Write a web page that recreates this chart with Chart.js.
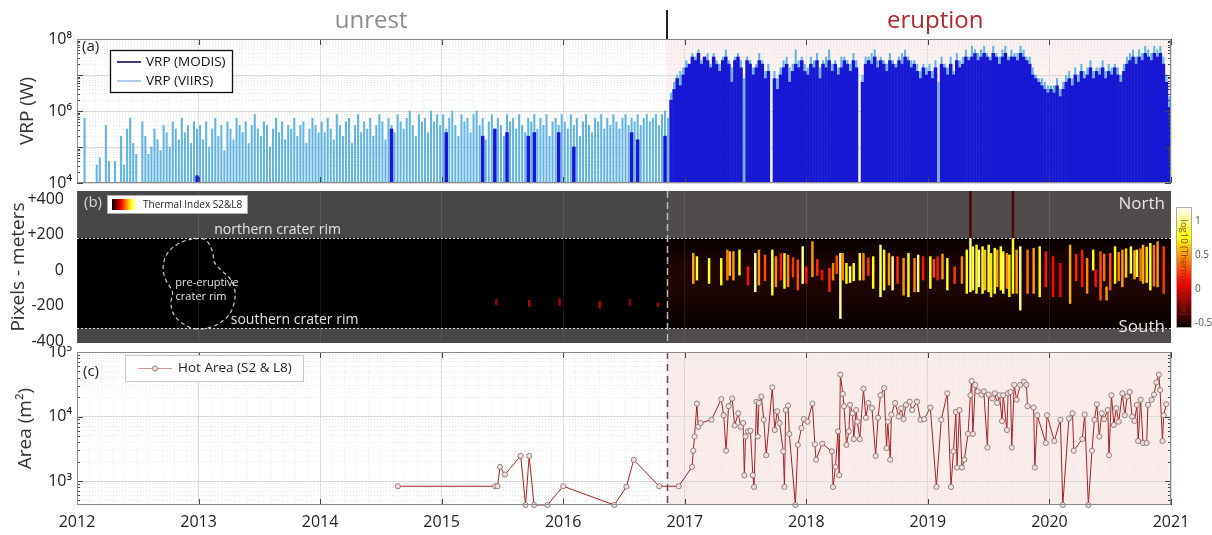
<!DOCTYPE html>
<html lang="en">
<head>
<meta charset="utf-8">
<title>Radiant power, thermal index and hot area, 2012–2021</title>
<script src="https://cdn.jsdelivr.net/npm/chart.js@4.4.1/dist/chart.umd.min.js"></script>
<style>
  html, body { margin: 0; padding: 0; background: #fff; }
  #fig { position: relative; width: 1212px; height: 535px; overflow: hidden; }
  #fig canvas { position: absolute; left: 0; }
</style>
</head>
<body>
<div id="fig">
  <canvas id="panelA" width="1212" height="190" style="top:0;width:1212px;height:190px"></canvas>
  <canvas id="panelB" width="1212" height="164" style="top:186px;width:1212px;height:164px"></canvas>
  <canvas id="panelC" width="1212" height="189" style="top:346px;width:1212px;height:189px"></canvas>
</div>
<script>
const _ = null;

// ---------- shared time axis ----------
const yearTicks = [2012, 2013, 2014, 2015, 2016, 2017, 2018, 2019, 2020, 2021];
const eruptionOnset = 2016.85;
const phaseLabels = ['unrest', 'eruption'];
const phaseLabelYear = [2014.42, 2019.06];
const phaseColors = ['#8c8c8c', '#b3282d'];

// ---------- (a) VRP, log10(W), 40 bins per year from 2012.0 ----------
const vrpBinStart = 2012;
const vrpBinsPerYear = 40;
const modisLogVRP = [
  _, _, _, _, _, _, _, _, _, _, _, _, _, _, _, _, _, _, _, _, _, _, _, _, _, _, _, _, _, _, _, _, _, _, _, _, _, _, _, 4.2,
  _, _, _, _, _, _, _, _, _, _, _, _, _, _, _, _, _, _, _, _, _, _, _, _, _, _, _, _, _, _, _, _, _, _, _, _, _, _, _, _,
  _, _, _, _, _, _, _, _, _, _, _, _, _, _, _, _, _, _, _, _, _, _, _, 5.5, _, _, _, _, _, _, _, _, _, _, _, _, _, _, _, _,
  _, 5.4, _, _, _, _, _, _, _, _, _, _, _, 5.3, _, _, _, 5.5, _, _, _, 5.4, _, _, _, _, _, _, 5.3, _, 5.4, _, _, _, _, _, _, _, 5.4, _,
  _, _, _, 5.0, _, _, _, _, _, _, _, _, _, _, _, _, _, _, _, _, _, _, 5.4, _, 5.2, _, _, _, _, _, _, _, _, 5.3, _, 6.3, 6.6, 6.9, 6.7, 7.0,
  7.2, 7.3, 7.5, 7.4, 7.6, 7.3, 7.5, 7.4, 7.2, 7.5, 7.3, 7.1, 7.4, 7.5, 7.3, 6.8, 7.4, 7.5, 7.2, _, 7.4, 7.3, 7.0, 7.2, 7.4, 7.3, 6.9, 7.1, _, 6.9, 6.6, 7.0, 7.2, 7.3, 6.8, 7.1, 7.3, 7.2, 7.4, 7.1,
  7.0, 7.3, 7.2, 7.4, 6.9, 7.3, 7.2, 7.4, 7.1, 7.3, 7.0, 7.2, 7.4, 7.3, 7.1, 7.4, 7.2, _, 6.8, 7.3, 7.4, 7.3, 7.5, 7.2, 7.4, 7.3, 7.1, 7.4, 7.3, 7.2, 7.4, 7.3, 7.5, 7.4, 7.2, 7.3, 7.1, 6.9, 7.2, 7.0,
  7.1, 6.9, 7.2, _, 7.3, 7.2, 7.0, 7.3, 7.0, 7.4, 7.2, 7.3, 7.5, 7.4, 7.5, 7.6, 7.4, 7.5, 7.6, 7.5, 7.4, 7.6, 7.5, 7.3, 7.5, 7.6, 7.4, 7.5, 7.5, 7.4, 7.6, 7.5, 7.4, 7.3, 7.0, 6.9, 6.8, 6.7, 6.6, 6.5,
  6.6, 6.5, 6.7, 6.4, 6.6, 6.8, 6.9, 6.7, 7.0, 6.8, 7.1, 6.9, 7.0, 7.2, 6.9, 7.1, 7.0, 7.2, 6.9, 7.1, 7.0, 7.2, 7.0, 6.8, 7.1, 7.3, 7.4, 7.5, 7.3, 7.5, 7.4, 7.6, 7.5, 7.4, 7.6, 7.5, 7.6, 7.3, 6.8, 6.1
];
const viirsLogVRP = [
  _, _, 5.8, _, _, _, 4.5, 4.7, _, 5.6, 4.6, _, 4.6, _, 5.3, 4.5, 5.5, 5.8, 5.1, 4.8, _, 5.7, 5.3, 4.8, 5.0, 5.5, 5.2, 4.9, 5.6, 5.4, 5.0, 5.7, 5.5, 5.2, 5.8, 5.4, 5.6, 5.1, 5.7, 5.5,
  5.6, 5.2, 5.7, 5.0, 5.5, 5.8, 5.3, 5.6, 4.9, 5.7, 5.5, 5.2, 5.8, 5.6, 5.4, 5.7, 5.1, 5.6, 5.9, 5.5, 5.3, 5.7, 5.6, 5.0, 5.5, 5.8, 5.4, 5.7, 5.2, 5.6, 5.5, 5.8, 5.3, 5.6, 5.7, 5.1, 5.5, 5.8, 5.6, 5.4,
  5.7, 5.4, 5.8, 5.5, 5.2, 5.9, 5.6, 5.3, 5.7, 5.8, 5.1, 5.6, 5.9, 5.4, 5.7, 5.5, 5.8, 5.3, 5.6, 5.9, 5.7, 5.2, 5.8, 5.6, 5.4, 5.9, 5.7, 5.5, 5.8, 6.0, 5.6, 5.3, 5.9, 5.7, 5.8, 5.4, 6.0, 5.7, 5.9, 5.6,
  5.9, 5.5, 5.8, 6.0, 5.6, 5.3, 5.9, 5.7, 5.8, 5.4, 5.9, 6.0, 5.6, 5.8, 5.2, 5.7, 5.9, 5.5, 5.8, 5.6, 5.3, 5.9, 5.7, 5.8, 5.5, 5.9, 5.6, 5.4, 5.8, 5.7, 5.9, 5.5, 5.8, 5.6, 5.9, 5.3, 5.7, 5.8, 5.6, 5.9,
  5.7, 5.5, 5.9, 5.6, 5.8, 5.3, 5.7, 5.9, 5.6, 5.4, 5.8, 5.7, 5.9, 5.5, 5.8, 5.6, 5.9, 5.7, 5.5, 5.8, 5.9, 5.6, 5.8, 5.7, 5.9, 5.6, 5.8, 5.9, 5.7, 5.8, 5.9, 5.6, 5.9, 6.0, 5.8, 6.5, 6.8, 7.0, 7.1, 7.2,
  7.4, 7.3, 7.6, 7.5, 7.7, 7.4, 7.5, 7.6, 7.3, 7.6, 7.4, 7.3, 7.5, 7.7, 7.4, 7.2, 7.5, 7.6, 7.4, 6.9, 7.5, 7.4, 7.2, 7.3, 7.6, 7.4, 7.1, 7.3, _, 7.1, 6.9, 7.2, 7.4, 7.5, 7.2, 7.3, 7.7, 7.4, 7.5, 7.3,
  7.2, 7.5, 7.4, 7.6, 7.2, 7.4, 7.5, 7.7, 7.3, 7.4, 7.2, 7.5, 7.5, 7.4, 7.3, 7.6, 7.4, _, 7.0, 7.5, 7.5, 7.6, 7.7, 7.4, 7.5, 7.4, 7.3, 7.6, 7.4, 7.3, 7.5, 7.6, 7.7, 7.5, 7.4, 7.4, 7.3, 7.1, 7.3, 7.2,
  7.3, 7.1, 7.4, 6.8, 7.5, 7.3, 7.2, 7.5, 7.1, 7.6, 7.4, 7.5, 7.7, 7.5, 7.8, 7.7, 7.6, 7.7, 7.8, 7.6, 7.5, 7.8, 7.6, 7.5, 7.7, 7.8, 7.5, 7.7, 7.6, 7.6, 7.8, 7.7, 7.5, 7.5, 7.2, 7.0, 6.9, 6.9, 6.8, 6.7,
  6.7, 6.7, 6.9, 6.6, 6.8, 7.0, 7.1, 6.9, 7.2, 7.0, 7.3, 7.1, 7.2, 7.4, 7.1, 7.2, 7.2, 7.4, 7.1, 7.3, 7.2, 7.3, 7.2, 7.0, 7.3, 7.5, 7.6, 7.7, 7.5, 7.7, 7.6, 7.8, 7.7, 7.6, 7.8, 7.7, 7.8, 7.5, 7.0, 6.4
];
const vrpDecades = [1e4, 1e5, 1e6, 1e7, 1e8];

// ---------- (b) thermal index strip (metres along the N–S profile) ----------
const pixelTicks = [-400, -200, 0, 200, 400];
const rimNorth = 181;
const rimSouth = -328;
const thermDate = [
  2015.45, 2015.72, 2015.97, 2016.30, 2016.55, 2016.78,
  2017.07, 2017.10, 2017.20, 2017.30, 2017.35, 2017.37, 2017.40, 2017.45, 2017.52, 2017.58,
  2017.61, 2017.66, 2017.72, 2017.75, 2017.79, 2017.82, 2017.85, 2017.89, 2017.93, 2017.97,
  2018.00, 2018.05, 2018.09, 2018.13, 2018.19, 2018.22, 2018.25, 2018.28, 2018.30, 2018.33,
  2018.36, 2018.39, 2018.44, 2018.47, 2018.51, 2018.55, 2018.61, 2018.64, 2018.68, 2018.71,
  2018.75, 2018.80, 2018.84, 2018.89, 2018.92, 2018.96, 2019.02, 2019.05, 2019.08, 2019.12,
  2019.16, 2019.22, 2019.28, 2019.32, 2019.35, 2019.37, 2019.40, 2019.42, 2019.45, 2019.47,
  2019.50, 2019.52, 2019.55, 2019.57, 2019.60, 2019.62, 2019.65, 2019.67, 2019.70, 2019.73,
  2019.76, 2019.82, 2019.87, 2019.92, 2019.97, 2020.03, 2020.09, 2020.17, 2020.22, 2020.27,
  2020.31, 2020.36, 2020.38, 2020.42, 2020.45, 2020.47, 2020.50, 2020.54, 2020.57, 2020.60,
  2020.63, 2020.67, 2020.70, 2020.72, 2020.75, 2020.77, 2020.80, 2020.83, 2020.86, 2020.89,
  2020.94, 2019.35, 2019.70
];
const thermTop = [
  -165, -170, -160, -175, -165, -185,
  94, 76, 66, 66, 113, 104, 104, 113, 19, 94,
  113, 85, 113, 76, 94, 94, 85, 70, 57, 132,
  19, 160, 60, 0, 10, 38, 80, 94, 94, 38,
  20, 38, 94, 94, 70, 76, 141, 113, 94, 76,
  76, 66, 94, 66, 85, 76, 76, 60, 76, 90,
  66, 19, 76, 113, 181, 132, 141, 113, 132, 113,
  141, 94, 123, 113, 132, 104, 94, 85, 181, 113,
  132, 113, 123, 132, 104, 76, 38, 141, 90, 113,
  66, 113, 0, 104, 90, -94, 94, 132, 100, 113,
  120, 132, 110, 113, 120, 141, 130, 151, 140, 160,
  132, 445, 445
];
const thermBottom = [
  -195, -205, -200, -215, -200, -205,
  -75, -56, -75, -84, -56, -30, -56, -28, -84, -122,
  -84, -60, -141, -94, -56, -103, -94, -40, -112, -75,
  -75, -37, -30, -56, -122, -56, -20, -272, -56, -75,
  -70, -60, -56, -56, -30, -103, -150, -112, -84, -112,
  -75, -141, -150, -122, -122, -56, -103, -40, -56, -50,
  -112, -75, -75, -131, -122, -112, -131, -94, -131, -112,
  -122, -150, -131, -94, -112, -131, -103, -150, -131, -131,
  -225, -131, -131, -150, -94, -150, -150, -188, -60, -94,
  -131, 0, -94, -169, -60, -169, -112, -75, -60, -94,
  -40, -18, -50, -37, -60, -75, -70, -112, -90, -94,
  -131, 181, 181
];
const thermIdx = [
  -0.15, -0.1, -0.15, -0.1, -0.2, -0.1,
  0.55, 0.9, 0.85, 0.75, 0.4, 0.6, 0.5, 0.8, 0.15, 1.05,
  0.5, 0.3, 0.85, 0.45, 0.15, 0.8, 0.45, 0.25, 0.3, 1.0,
  0.15, 0.5, 0.2, 0.1, 0.2, 0.45, 0.3, 1.0, 0.45, 0.75,
  0.9, 0.8, 0.85, 0.45, 0.25, 0.8, 0.95, 0.75, 0.5, 1.05,
  0.2, 0.5, 0.8, 0.45, 1.0, 0.15, 0.8, 0.3, 0.15, 0.5,
  0.8, 0.25, 0.45, 0.8, 0.95, 0.85, 0.75, 1.05, 0.85, 0.6,
  0.9, 0.7, 0.85, 0.5, 0.8, 0.9, 0.45, 0.7, 0.8, 0.5,
  1.0, 0.4, 0.5, 0.75, 0.15, 0.1, 0.05, 0.55, 0.2, 0.15,
  0.45, 0.8, 0.15, 0.3, 0.4, 0.5, 0.3, 0.8, 0.45, 0.5,
  0.65, 0.9, 0.55, 0.85, 0.4, 0.55, 0.7, 0.85, 0.4, 0.5,
  0.25, -0.35, -0.35
];
const craterYear = [2012.964, 2013.060, 2013.115, 2013.129, 2013.184, 2013.266, 2013.301, 2013.279, 2013.225, 2013.115,
                    2012.978, 2012.867, 2012.799, 2012.772, 2012.785, 2012.731, 2012.708, 2012.744, 2012.840, 2012.964];
const craterPix = [179, 169, 103, 47, 1, -55, -130, -215, -271, -318,
                   -331, -299, -252, -187, -121, -56, 16, 95, 151, 179];
const thermCbarRange = [-0.57, 1.21];
const thermCbarTicks = [-0.5, 0, 0.5, 1];

// ---------- (c) hot area, m² ----------
const hotAreaDate = [
  2014.64, 2015.44, 2015.46, 2015.48, 2015.52, 2015.65, 2015.69, 2015.72, 2015.76, 2015.87,
  2016.00, 2016.42, 2016.52, 2016.58, 2016.79, 2016.95,
  2017.06, 2017.07, 2017.08, 2017.10, 2017.11, 2017.13, 2017.22, 2017.30, 2017.32, 2017.34,
  2017.36, 2017.39, 2017.41, 2017.44, 2017.46, 2017.48, 2017.49, 2017.50, 2017.52, 2017.54,
  2017.56, 2017.57, 2017.59, 2017.60, 2017.61, 2017.63, 2017.65, 2017.67, 2017.72, 2017.74,
  2017.76, 2017.78, 2017.81, 2017.82, 2017.83, 2017.85, 2017.86, 2017.91, 2017.93, 2017.96,
  2017.98, 2018.01, 2018.05, 2018.07, 2018.08, 2018.13, 2018.21, 2018.22, 2018.24, 2018.26,
  2018.27, 2018.28, 2018.30, 2018.31, 2018.33, 2018.35, 2018.36, 2018.38, 2018.39, 2018.41,
  2018.42, 2018.44, 2018.47, 2018.49, 2018.51, 2018.54, 2018.57, 2018.59, 2018.61, 2018.64,
  2018.66, 2018.67, 2018.69, 2018.70, 2018.73, 2018.76, 2018.78, 2018.80, 2018.82, 2018.85,
  2018.87, 2018.91, 2018.94, 2018.97, 2019.02, 2019.07, 2019.11, 2019.16, 2019.19, 2019.21,
  2019.23, 2019.24, 2019.26, 2019.28, 2019.30, 2019.33, 2019.35, 2019.36, 2019.37, 2019.39,
  2019.41, 2019.44, 2019.46, 2019.49, 2019.50, 2019.53, 2019.55, 2019.57, 2019.59, 2019.61,
  2019.62, 2019.65, 2019.66, 2019.68, 2019.69, 2019.71, 2019.73, 2019.76, 2019.79, 2019.81,
  2019.82, 2019.87, 2019.88, 2019.90, 2019.97, 2019.98, 2020.04, 2020.09, 2020.11, 2020.16,
  2020.19, 2020.20, 2020.27, 2020.29, 2020.32, 2020.35, 2020.37, 2020.39, 2020.41, 2020.43,
  2020.45, 2020.48, 2020.49, 2020.51, 2020.53, 2020.55, 2020.57, 2020.60, 2020.62, 2020.64,
  2020.66, 2020.68, 2020.70, 2020.72, 2020.73, 2020.75, 2020.77, 2020.80, 2020.81, 2020.84,
  2020.86, 2020.88, 2020.90, 2020.91, 2020.93, 2020.94, 2020.96
];
const hotArea = [
  830, 830, 830, 1660, 1260, 2450, 425, 2450, 425, 425,
  830, 425, 820, 2130, 830, 830,
  1660, 2950, 4900, 15850, 6920, 7940, 8910, 18600, 10470, 2950,
  14450, 19050, 7240, 11220, 6920, 7940, 1230, 4900, 5890, 6030,
  1230, 810, 16980, 4900, 16220, 20420, 8910, 2510, 28180, 6170,
  12020, 7940, 2880, 810, 12590, 14790, 5370, 425, 3630, 6610,
  9120, 8320, 15850, 3720, 2140, 3800, 2880, 810, 1660, 5890,
  1230, 44670, 22390, 14450, 3630, 5890, 15140, 11220, 4470, 12590,
  8320, 4470, 26920, 9550, 16220, 13490, 2450, 9550, 21380, 27540,
  3240, 8320, 2140, 10720, 16220, 10000, 13490, 9120, 15140, 16980,
  12590, 16980, 8910, 9120, 13800, 810, 8910, 22910, 810, 2880,
  11750, 1620, 12590, 1620, 2140, 5370, 21380, 35480, 5370, 30900,
  24550, 21880, 24550, 3310, 21880, 19050, 22910, 16220, 21380, 8510,
  21380, 6170, 22910, 23990, 3310, 30900, 18200, 30900, 34670, 30900,
  14450, 13800, 1620, 10470, 3890, 10470, 4170, 8910, 425, 9330,
  11220, 2950, 4470, 10720, 425, 2950, 8910, 15490, 4900, 11220,
  9120, 12590, 2510, 21380, 7410, 13490, 8320, 22910, 10470, 20420,
  23990, 10000, 8510, 15140, 4170, 18200, 3890, 3890, 15140, 18200,
  21880, 33880, 44670, 25700, 4170, 10470, 15490
];
const areaDecades = [1e3, 1e4, 1e5];
const areaRange = [425, 1e5];

// ---------- helpers ----------
const FONT = "'Open Sans', 'Noto Sans', 'DejaVu Sans', sans-serif";
Chart.defaults.font.family = FONT;
Chart.defaults.color = '#222';
Chart.defaults.animation = false;

const SUP = {'0':'⁰','1':'¹','2':'²','3':'³','4':'⁴','5':'⁵','6':'⁶','7':'⁷','8':'⁸','9':'⁹','-':'⁻'};
const pow10Label = v => '10' + String(Math.round(Math.log10(v))).split('').map(c => SUP[c]).join('');

const vrpBars = logs => logs
  .map((v, i) => v === null ? null : {x: vrpBinStart + (i + 0.5) / vrpBinsPerYear, y: Math.pow(10, v)})
  .filter(p => p !== null);

function hotColor(v) {
  const t = Math.min(1, Math.max(0, (v - thermCbarRange[0]) / (thermCbarRange[1] - thermCbarRange[0])));
  const r = Math.min(1, t / 0.375);
  const g = Math.min(1, Math.max(0, (t - 0.375) / 0.375));
  const b = Math.min(1, Math.max(0, (t - 0.75) / 0.25));
  return `rgb(${Math.round(r * 255)},${Math.round(g * 255)},${Math.round(b * 255)})`;
}

// scale paddings are zeroed so every panel's plot box sits exactly where the layout puts it
const noPad = s => { s.paddingTop = 0; s.paddingBottom = 0; s.paddingLeft = 0; s.paddingRight = 0; };

function timeAxis(showLabels, gridColor) {
  return {
    type: 'linear', position: 'bottom', min: yearTicks[0], max: yearTicks[yearTicks.length - 1], offset: false,
    afterBuildTicks: s => { s.ticks = yearTicks.map(v => ({value: v})); },
    ticks: { display: showLabels, autoSkip: false, maxRotation: 0, padding: 8, font: {size: 16}, color: '#222', callback: v => String(v) },
    grid: { color: gridColor, drawTicks: false, offset: false },
    border: { display: false },
    afterFit: s => { s.height = showLabels ? 30 : 0; noPad(s); }
  };
}
function minorTimeAxis(gridColor) {
  return {
    type: 'linear', position: 'bottom', min: yearTicks[0], max: yearTicks[yearTicks.length - 1], offset: false,
    afterBuildTicks: s => {
      const t = [];
      for (let k = 1; k < (s.max - s.min) * 10; k++) if (k % 10) t.push({value: s.min + k / 10});
      s.ticks = t;
    },
    ticks: { display: false },
    grid: { color: gridColor, drawTicks: false },
    border: { display: false, dash: [1, 2] },
    afterFit: s => { s.height = 0; noPad(s); }
  };
}
function logAxis(min, max, decades, label, title, width) {
  return {
    type: 'logarithmic', position: 'left', min, max,
    afterBuildTicks: s => { s.ticks = decades.map(v => ({value: v})); },
    ticks: { autoSkip: false, padding: 5, font: {size: 16}, color: '#222', callback: label },
    grid: { color: '#d9d9d9', drawTicks: false },
    border: { display: false },
    title: { display: true, text: title, font: {size: 19}, color: '#333', padding: {top: 2, bottom: 0} },
    afterFit: s => { s.width = width; noPad(s); }
  };
}
function minorLogAxis(min, max) {
  return {
    type: 'logarithmic', position: 'left', min, max,
    afterBuildTicks: s => {
      const t = [];
      for (let e = Math.floor(Math.log10(s.min)); e <= Math.ceil(Math.log10(s.max)); e++)
        for (let k = 2; k <= 9; k++) { const v = k * Math.pow(10, e); if (v > s.min && v < s.max) t.push({value: v}); }
      s.ticks = t;
    },
    ticks: { display: false },
    grid: { color: '#e6e6e6', drawTicks: false },
    border: { display: false, dash: [1, 2] },
    afterFit: s => { s.width = 0; noPad(s); }
  };
}

// inward tick marks and the axes box
const axesFrame = {
  id: 'axesFrame',
  afterDatasetsDraw(chart, args, o) {
    if (!o || !o.enabled) return;
    const {ctx, chartArea: a, scales} = chart;
    ctx.save();
    ctx.strokeStyle = o.tickColor; ctx.lineWidth = 1;
    ctx.beginPath();
    scales.x.ticks.forEach(t => {
      const px = Math.round(scales.x.getPixelForValue(t.value)) + 0.5;
      ctx.moveTo(px, a.top); ctx.lineTo(px, a.top + 6);
      ctx.moveTo(px, a.bottom); ctx.lineTo(px, a.bottom - 6);
    });
    const yt = (scale, len) => scale.ticks.forEach(t => {
      const py = Math.round(scale.getPixelForValue(t.value)) + 0.5;
      ctx.moveTo(a.left, py); ctx.lineTo(a.left + len, py);
      ctx.moveTo(a.right, py); ctx.lineTo(a.right - len, py);
    });
    yt(scales.yMinor, 3); yt(scales.y, 6);
    ctx.stroke();
    ctx.strokeStyle = o.frameColor;
    ctx.strokeRect(a.left + 0.5, a.top + 0.5, a.width - 1, a.height - 1);
    ctx.restore();
  }
};

// light shading over the eruptive period
const eruptionShade = {
  id: 'eruptionShade',
  beforeDraw(chart, args, o) {
    if (!o || !o.color) return;
    const {ctx, chartArea: a, scales} = chart;
    const x0 = scales.x.getPixelForValue(eruptionOnset);
    ctx.save(); ctx.fillStyle = o.color;
    ctx.fillRect(x0, a.top, a.right - x0, a.height);
    ctx.restore();
  }
};

const baseOpts = (padding, scales, pluginOpts) => ({
  responsive: false, maintainAspectRatio: false, devicePixelRatio: 1, animation: false, events: [],
  layout: { padding },
  scales,
  plugins: Object.assign({ legend: {display: false}, tooltip: {enabled: false} }, pluginOpts)
});

// ---------- panel (a) ----------
const panelADecor = {
  id: 'panelADecor',
  afterDraw(chart) {
    const {ctx, chartArea: a, scales} = chart;
    const xs = scales.x;
    ctx.save();
    // phase titles and divider
    ctx.textAlign = 'center'; ctx.textBaseline = 'middle';
    ctx.font = `24px ${FONT}`;
    phaseLabels.forEach((t, i) => { ctx.fillStyle = phaseColors[i]; ctx.fillText(t, xs.getPixelForValue(phaseLabelYear[i]), 21); });
    const xd = Math.round(xs.getPixelForValue(eruptionOnset));
    ctx.strokeStyle = '#222'; ctx.lineWidth = 2;
    ctx.beginPath(); ctx.moveTo(xd, 10); ctx.lineTo(xd, a.top); ctx.stroke();
    // panel letter
    ctx.textAlign = 'left'; ctx.fillStyle = '#222'; ctx.font = `15px ${FONT}`;
    ctx.fillText('(a)', a.left + 5, a.top + 8);
    // legend
    const bx = a.left + 33, by = a.top + 11, bw = 122, bh = 42;
    ctx.fillStyle = '#fff'; ctx.fillRect(bx, by, bw, bh);
    ctx.strokeStyle = '#111'; ctx.lineWidth = 1.3; ctx.strokeRect(bx + 0.5, by + 0.5, bw, bh);
    ctx.font = `13.5px ${FONT}`;
    chart.data.datasets.forEach((ds, i) => {
      const yy = by + 12 + i * 19;
      ctx.strokeStyle = ds.borderColor; ctx.lineWidth = 1.8;
      ctx.beginPath(); ctx.moveTo(bx + 7, yy); ctx.lineTo(bx + 31, yy); ctx.stroke();
      ctx.fillStyle = '#111'; ctx.fillText(ds.label, bx + 36, yy);
    });
    ctx.restore();
  }
};

new Chart(document.getElementById('panelA'), {
  type: 'bar',
  data: { datasets: [
    { label: 'VRP (MODIS)', data: vrpBars(modisLogVRP), backgroundColor: '#1717d4', borderColor: '#27277a', borderWidth: 0, barThickness: 2.9, grouped: false, order: 1 },
    { label: 'VRP (VIIRS)', data: vrpBars(viirsLogVRP), backgroundColor: '#62b5e2', borderColor: '#a8c9ea', borderWidth: 0, barThickness: 1.4, grouped: false, order: 2 }
  ]},
  options: baseOpts(
    {left: 14, right: 41, top: 39, bottom: 7},
    {
      x: timeAxis(false, '#d9d9d9'),
      xMinor: minorTimeAxis('#e8e8e8'),
      y: logAxis(vrpDecades[0], vrpDecades[vrpDecades.length - 1], vrpDecades,
                 v => Math.round(Math.log10(v)) % 2 === 0 ? pow10Label(v) : '', 'VRP (W)', 63),
      yMinor: minorLogAxis(vrpDecades[0], vrpDecades[vrpDecades.length - 1])
    },
    { eruptionShade: {color: 'rgba(246, 214, 214, 0.35)'}, axesFrame: {enabled: true, tickColor: '#444', frameColor: '#8a8a8a'} }
  ),
  plugins: [eruptionShade, axesFrame, panelADecor]
});

// ---------- panel (b) ----------
const panelBBack = {
  id: 'panelBBack',
  beforeDraw(chart) {
    const {ctx, chartArea: a, scales} = chart;
    const yN = scales.y.getPixelForValue(rimNorth), yS = scales.y.getPixelForValue(rimSouth);
    const x0 = scales.x.getPixelForValue(eruptionOnset);
    ctx.save();
    ctx.fillStyle = '#474747'; ctx.fillRect(a.left, a.top, a.width, a.height);
    ctx.fillStyle = 'rgba(255,170,170,0.05)'; ctx.fillRect(x0, a.top, a.right - x0, a.height);
    ctx.fillStyle = '#000'; ctx.fillRect(a.left, yN, a.width, yS - yN);
    const haze = ctx.createLinearGradient(0, yN, 0, yS);
    haze.addColorStop(0, '#080101'); haze.addColorStop(0.35, '#1f0603'); haze.addColorStop(0.6, '#1c0503'); haze.addColorStop(1, '#070101');
    ctx.fillStyle = haze; ctx.fillRect(x0, yN, a.right - x0, yS - yN);
    ctx.restore();
  }
};
const panelBDecor = {
  id: 'panelBDecor',
  afterDatasetsDraw(chart) {
    const {ctx, chartArea: a, scales} = chart;
    const xs = scales.x, ys = scales.y;
    const yN = Math.round(ys.getPixelForValue(rimNorth)) + 0.5, yS = Math.round(ys.getPixelForValue(rimSouth)) + 0.5;
    const x0 = Math.round(xs.getPixelForValue(eruptionOnset)) + 0.5;
    ctx.save();
    // crater rims
    ctx.strokeStyle = 'rgba(235,235,235,0.9)'; ctx.lineWidth = 1; ctx.setLineDash([2, 2]);
    ctx.beginPath(); ctx.moveTo(a.left, yN); ctx.lineTo(a.right, yN); ctx.moveTo(a.left, yS); ctx.lineTo(a.right, yS); ctx.stroke();
    // eruption onset
    ctx.strokeStyle = '#b8b8b8'; ctx.lineWidth = 1.5; ctx.setLineDash([7, 4]);
    ctx.beginPath(); ctx.moveTo(x0, a.top); ctx.lineTo(x0, a.bottom); ctx.stroke();
    ctx.setLineDash([]);
    // annotations
    ctx.fillStyle = '#e4e4e4'; ctx.textBaseline = 'middle'; ctx.textAlign = 'center';
    ctx.font = `14px ${FONT}`;
    ctx.fillText('northern crater rim', xs.getPixelForValue(2013.65), yN - 8);
    ctx.fillText('southern crater rim', xs.getPixelForValue(2013.79), yS - 8);
    ctx.font = `11px ${FONT}`;
    ctx.fillText('pre-eruptive', xs.getPixelForValue(2013.07), ys.getPixelForValue(-70));
    ctx.fillText('crater rim', xs.getPixelForValue(2013.02), ys.getPixelForValue(-150));
    ctx.textAlign = 'right'; ctx.font = `17px ${FONT}`;
    ctx.fillText('North', a.right - 6, a.top + 13);
    ctx.fillText('South', a.right - 6, yS - 1);
    ctx.textAlign = 'left'; ctx.font = `15px ${FONT}`; ctx.fillStyle = '#d8d8d8';
    ctx.fillText('(b)', a.left + 7, a.top + 12);
    // legend swatch
    const lx = a.left + 30, ly = a.top + 4, lw = 140, lh = 18;
    ctx.fillStyle = '#fff'; ctx.fillRect(lx, ly, lw, lh);
    ctx.strokeStyle = '#aaa'; ctx.lineWidth = 1; ctx.strokeRect(lx + 0.5, ly + 0.5, lw, lh);
    const sw = ctx.createLinearGradient(lx + 5, 0, lx + 30, 0);
    for (let k = 0; k <= 10; k++) sw.addColorStop(k / 10, hotColor(thermCbarRange[0] + k / 10 * (thermCbarRange[1] - thermCbarRange[0])));
    ctx.fillStyle = sw; ctx.fillRect(lx + 5, ly + 4, 25, 11);
    ctx.fillStyle = '#222'; ctx.font = `10px ${FONT}`;
    ctx.fillText(chart.data.datasets[1].label, lx + 36, ly + 10);
    // colour bar
    const cx = a.right + 5, cw = 16, cTop = 21, cBot = 142;
    const cg = ctx.createLinearGradient(0, cBot, 0, cTop);
    for (let k = 0; k <= 20; k++) cg.addColorStop(k / 20, hotColor(thermCbarRange[0] + k / 20 * (thermCbarRange[1] - thermCbarRange[0])));
    ctx.fillStyle = cg; ctx.fillRect(cx, cTop, cw, cBot - cTop);
    ctx.strokeStyle = '#aaa'; ctx.strokeRect(cx + 0.5, cTop + 0.5, cw - 1, cBot - cTop - 1);
    const cy = v => cBot - (v - thermCbarRange[0]) / (thermCbarRange[1] - thermCbarRange[0]) * (cBot - cTop);
    ctx.fillStyle = '#555'; ctx.font = `10px ${FONT}`; ctx.textAlign = 'left';
    thermCbarTicks.forEach(v => ctx.fillText(String(v), cx + cw + 3, cy(v)));
    ctx.save();
    ctx.translate(cx + cw / 2, (cTop + cBot) / 2); ctx.rotate(Math.PI / 2);
    ctx.textAlign = 'center'; ctx.fillStyle = 'rgba(110,50,30,0.85)'; ctx.font = `9.5px ${FONT}`;
    ctx.fillText('log10 (Thermal Index)', 0, 0);
    ctx.restore();
    ctx.restore();
  }
};

new Chart(document.getElementById('panelB'), {
  type: 'bar',
  data: { datasets: [
    { type: 'line', label: 'pre-eruptive crater rim', data: craterYear.map((x, i) => ({x, y: craterPix[i]})),
      borderColor: 'rgba(225,225,225,0.9)', borderWidth: 1.2, borderDash: [4, 3], pointRadius: 0, tension: 0.35, fill: false, order: 0 },
    { label: 'Thermal Index S2&L8', data: thermDate.map((x, i) => ({x, y: [thermBottom[i], thermTop[i]]})),
      backgroundColor: thermIdx.map(hotColor), borderWidth: 0, barThickness: 1.8, grouped: false, order: 1 }
  ]},
  options: baseOpts(
    {left: 5, right: 41, top: 5, bottom: 7},
    {
      x: timeAxis(false, 'rgba(255,255,255,0.09)'),
      y: {
        type: 'linear', position: 'left', min: -410, max: 445,
        afterBuildTicks: s => { s.ticks = pixelTicks.map(v => ({value: v})); },
        ticks: { autoSkip: false, padding: 5, font: {size: 16}, color: '#222', callback: v => v > 0 ? '+' + v : String(v) },
        grid: { display: false },
        border: { display: false },
        title: { display: true, text: 'Pixels - meters', font: {size: 19}, color: '#333', padding: {top: 2, bottom: 0} },
        afterFit: s => { s.width = 72; noPad(s); }
      }
    },
    {}
  ),
  plugins: [panelBBack, panelBDecor]
});

// ---------- panel (c) ----------
const panelCDecor = {
  id: 'panelCDecor',
  beforeDatasetsDraw(chart) {
    const {ctx, chartArea: a, scales} = chart;
    const x0 = Math.round(scales.x.getPixelForValue(eruptionOnset)) + 0.5;
    ctx.save();
    ctx.strokeStyle = '#555'; ctx.lineWidth = 1.5; ctx.setLineDash([7, 5]);
    ctx.beginPath(); ctx.moveTo(x0, a.top); ctx.lineTo(x0, a.bottom); ctx.stroke();
    ctx.restore();
  },
  afterDraw(chart) {
    const {ctx, chartArea: a} = chart;
    const ds = chart.data.datasets[0];
    ctx.save();
    ctx.textBaseline = 'middle'; ctx.textAlign = 'left';
    ctx.fillStyle = '#222'; ctx.font = `15px ${FONT}`;
    ctx.fillText('(c)', a.left + 6, a.top + 20);
    const bx = a.left + 48, by = a.top + 3, bw = 178, bh = 26;
    ctx.fillStyle = '#fff'; ctx.fillRect(bx, by, bw, bh);
    ctx.strokeStyle = '#c8c8c8'; ctx.lineWidth = 1; ctx.strokeRect(bx + 0.5, by + 0.5, bw, bh);
    const yy = by + bh / 2 + 0.5;
    ctx.strokeStyle = '#d59a9a'; ctx.lineWidth = 1.2;
    ctx.beginPath(); ctx.moveTo(bx + 13, yy); ctx.lineTo(bx + 47, yy); ctx.stroke();
    ctx.beginPath(); ctx.arc(bx + 30, yy, 2.6, 0, Math.PI * 2);
    ctx.fillStyle = ds.pointBackgroundColor; ctx.fill();
    ctx.strokeStyle = ds.pointBorderColor; ctx.lineWidth = 0.8; ctx.stroke();
    ctx.fillStyle = '#222'; ctx.font = `13.5px ${FONT}`;
    ctx.fillText(ds.label, bx + 53, yy);
    ctx.restore();
  }
};

new Chart(document.getElementById('panelC'), {
  type: 'line',
  data: { datasets: [
    { label: 'Hot Area (S2 & L8)', data: hotAreaDate.map((x, i) => ({x, y: hotArea[i]})),
      borderColor: '#a82222', borderWidth: 1, tension: 0, fill: false, clip: false,
      pointRadius: 2.6, pointBorderColor: '#7d6b6b', pointBackgroundColor: '#f3dede', pointBorderWidth: 0.8 }
  ]},
  options: baseOpts(
    {left: 12, right: 41, top: 6, bottom: 0},
    {
      x: timeAxis(true, '#d9d9d9'),
      xMinor: minorTimeAxis('#e8e8e8'),
      y: logAxis(areaRange[0], areaRange[1], areaDecades, pow10Label, 'Area (m²)', 65),
      yMinor: minorLogAxis(areaRange[0], areaRange[1])
    },
    { eruptionShade: {color: 'rgba(244, 196, 196, 0.33)'}, axesFrame: {enabled: true, tickColor: '#444', frameColor: '#8a8a8a'} }
  ),
  plugins: [eruptionShade, axesFrame, panelCDecor]
});
</script>
</body>
</html>
